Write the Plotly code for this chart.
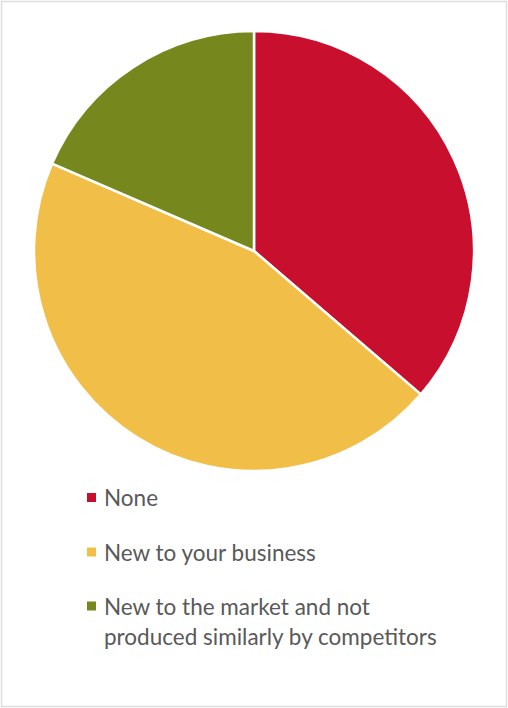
import plotly.graph_objects as go

# Data
labels = ["None", "New to your business", "New to the market and not produced similarly by competitors"]
legend_lines = [["None"], ["New to your business"], ["New to the market and not", "produced similarly by competitors"]]
values = [36.3, 45.2, 18.5]
colors = ["#C8102E", "#F1BE48", "#76881D"]

W, H = 508, 708
cx, cy, r = 254, 251, 220

fig = go.Figure()
fig.add_trace(go.Pie(
    labels=labels,
    values=values,
    sort=False,
    direction="clockwise",
    rotation=0,
    marker=dict(colors=colors, line=dict(color="white", width=2.5)),
    textinfo="none",
    hoverinfo="label+percent",
    showlegend=False,
    domain=dict(x=[(cx - r) / W, (cx + r) / W], y=[1 - (cy + r) / H, 1 - (cy - r) / H]),
))

# Manual legend
item_y = [497.5, 552, 606]
line_gap = 30
shapes = [dict(type="rect", xref="paper", yref="paper", x0=1.5 / W, x1=1 - 1.5 / W, y0=1.5 / H, y1=1 - 1.5 / H,
               line=dict(color="#DDDDDD", width=1.5), fillcolor="rgba(0,0,0,0)", layer="below")]
annotations = []
for i, (lines, col) in enumerate(zip(legend_lines, colors)):
    yc = item_y[i]
    shapes.append(dict(type="rect", xref="paper", yref="paper",
                       x0=87 / W, x1=96 / W, y0=1 - (yc + 4.5) / H, y1=1 - (yc - 4.5) / H,
                       fillcolor=col, line=dict(width=0)))
    for j, ln in enumerate(lines):
        annotations.append(dict(text=ln, xref="paper", yref="paper", x=102 / W, y=1 - (yc + j * line_gap) / H,
                                xanchor="left", yanchor="middle", showarrow=False,
                                font=dict(family="Lato, Open Sans, sans-serif", size=22.5, color="#595959")))

fig.update_layout(
    width=W, height=H,
    margin=dict(l=0, r=0, t=0, b=0),
    paper_bgcolor="white",
    plot_bgcolor="white",
    shapes=shapes,
    annotations=annotations,
)

fig.write_html("out.html")
